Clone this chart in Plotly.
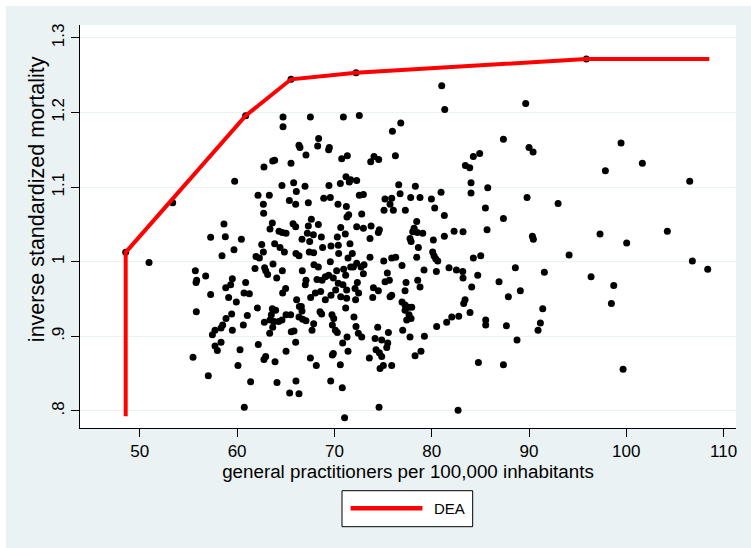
import plotly.graph_objects as go

# ---- data ----
gp = [
    # frontier units
    48.55, 53.38, 60.88, 65.54, 72.22, 95.89,
    # zoom region A
    64.72, 64.72, 67.53, 70.92, 72.56, 68.38, 66.36, 66.46, 68.28, 69.48, 69.41, 67.08, 70.75, 71.33,
    62.76, 63.66, 63.86, 65.54, 64.61, 65.81, 66.09, 66.98, 69.44, 70.61, 71.19, 71.53, 71.67, 72.29,
    72.56, 62.15, 63.31, 62.70, 62.73, 65.37, 66.02, 67.32, 68.90, 69.58, 70.37, 71.23, 59.75,
    71.29, 71.47, 67.63,
    # zoom region B
    50.95, 58.65, 57.28, 58.79, 60.44, 58.45, 59.68, 62.53, 61.94, 62.29, 62.70, 63.62, 63.38, 64.31,
    64.65, 65.03, 65.75, 66.02, 66.67, 67.22, 67.46, 67.32, 68.35, 67.84, 68.66, 63.69, 62.83, 61.84,
    63.86, 64.41, 64.86, 66.05, 66.36, 67.42, 67.87, 68.79, 69.65, 70.40, 70.44, 70.65, 70.30, 71.12,
    71.60, 72.29, 71.84, 71.40, 69.58, 70.23, 70.95, 71.16, 71.67, 71.95, 72.29, 55.71, 55.84, 55.78,
    56.77, 57.28, 59.51, 59.34, 58.83, 59.13, 59.92, 60.88, 60.71, 61.26, 64.65, 64.07, 63.14, 62.94,
    67.90, 68.35, 66.70, 67.08, 67.01, 68.21, 68.73, 69.07, 69.41, 69.89, 70.40, 70.88, 71.26, 72.12,
    72.36, 64.99, 64.68, 66.12, 66.60, 67.56, 68.04, 68.59, 69.07, 69.65, 70.13, 70.65, 71.26, 72.18,
    72.49, 55.81, 62.08, 61.05, 59.44, 58.86, 58.52, 58.35, 57.73, 57.46, 60.64, 59.51, 63.62, 63.96,
    63.52, 63.38, 63.79, 64.27, 64.61, 65.03, 65.51, 62.80, 63.66, 63.35, 66.40, 66.67, 66.36, 66.74,
    67.08, 67.87, 67.70, 68.52, 68.69, 69.75, 69.93, 71.16, 72.01, 72.22, 72.46, 69.79, 70.10, 70.30,
    65.85, 65.57, 66.02, 65.03, 62.18, 60.30, 62.76, 62.94, 63.90, 60.09, 58.35, 57.73, 57.97, 55.47,
    57.04, 67.53, 68.14, 69.89, 69.79, 70.85, 71.30, 71.40, 70.61, 61.39, 64.10, 66.05, 65.40, 66.36,
    69.62, 70.81, 60.74, 71.05,
    # zoom region C
    81.03, 81.34, 89.66, 75.96, 76.82, 76.27, 73.73, 74.07, 74.55, 87.37, 90.00, 90.42, 83.46, 83.91,
    84.28, 84.93, 72.98, 76.61, 76.75, 78.32, 77.84, 78.80, 75.20, 75.89, 75.72, 76.06, 75.10, 77.29,
    79.97, 80.31, 80.96, 81.30, 84.04, 84.04, 85.76, 85.52, 89.80, 87.37, 72.81,
    # zoom region D
    78.46, 78.19, 78.05, 78.53, 79.08, 77.77, 77.88, 78.63, 78.46, 80.17, 81.30, 82.30, 83.22, 85.69,
    90.35, 90.45, 80.10, 80.24, 80.62, 80.41, 79.21, 80.48, 81.78, 82.54, 83.19, 83.22, 84.28, 85.04,
    84.73, 84.11, 88.60, 86.92, 89.11, 87.88, 83.43, 83.29, 83.94, 82.78, 82.06, 81.54, 80.51, 85.55,
    85.55, 87.68, 88.77, 84.80, 87.37, 82.71, 74.59,
    73.66, 73.77, 72.98, 74.62, 74.52, 73.66, 75.07, 75.89, 76.30, 76.95, 75.44, 75.21, 75.65, 77.36,
    72.74, 72.98, 73.05, 74.01, 74.52, 73.94, 75.72, 75.89, 77.26, 76.95, 77.26, 77.60, 77.26, 77.95,
    77.67, 77.88, 77.43, 77.02, 78.80, 78.56, 74.45, 75.55, 74.86, 74.18, 75.48, 75.38, 77.77, 79.25,
    74.28, 74.62, 74.86, 73.59, 75.03, 74.69, 75.89, 78.90, 78.29, 72.81,
    # zoom region E
    99.46, 97.85, 101.65, 106.52, 92.99, 97.30, 100.04, 104.22, 94.12, 106.79, 108.37, 91.58, 96.38,
    98.71, 98.47, 91.41, 91.17, 90.93, 99.67,
]
inv_smr = [
    1.0126, 1.079, 1.1957, 1.2445, 1.2533, 1.2717,
    1.194, 1.181, 1.194, 1.194, 1.196, 1.165, 1.156, 1.153, 1.155, 1.153, 1.150, 1.143, 1.138, 1.142,
    1.127, 1.135, 1.136, 1.132, 1.102, 1.106, 1.094, 1.101, 1.102, 1.105, 1.114, 1.107, 1.110, 1.109,
    1.089, 1.089, 1.089, 1.077, 1.065, 1.082, 1.077, 1.079, 1.085, 1.086, 1.077, 1.074, 1.108,
    1.060, 1.063, 1.057,
    0.999, 1.0505, 1.0327, 1.0336, 1.030, 1.008, 1.016, 1.023, 1.007, 1.005, 1.013, 1.052, 1.044, 1.041,
    1.039, 1.038, 1.051, 1.047, 1.030, 1.038, 1.027, 1.048, 1.050, 1.036, 1.033, 0.997, 0.992, 0.991,
    1.024, 1.019, 1.013, 1.011, 1.008, 1.013, 1.012, 1.019, 1.021, 1.022, 1.011, 1.046, 1.033, 1.037,
    1.024, 1.047, 1.011, 1.005, 1.000, 0.988, 0.990, 0.982, 0.993, 0.993, 0.998, 0.988, 0.975, 0.972,
    0.981, 0.956, 0.977, 0.969, 0.965, 0.952, 0.946, 0.972, 0.958, 0.957, 0.988, 0.978, 0.983, 0.988,
    0.996, 0.993, 0.988, 0.975, 0.969, 0.976, 0.975, 0.980, 0.982, 0.978, 0.971, 0.969, 0.962, 0.964,
    0.972, 0.964, 0.958, 0.949, 0.940, 0.952, 0.958, 0.960, 0.949, 0.955, 0.962, 0.953, 0.951, 0.949,
    0.958, 0.933, 0.938, 0.928, 0.930, 0.924, 0.915, 0.911, 0.908, 0.902, 0.915, 0.908, 0.937, 0.935,
    0.929, 0.922, 0.920, 0.920, 0.922, 0.929, 0.929, 0.919, 0.912, 0.904, 0.940, 0.934, 0.926, 0.923,
    0.921, 0.917, 0.908, 0.933, 0.930, 0.929, 0.924, 0.938, 0.926, 0.913, 0.904, 0.915, 0.908, 0.905,
    0.907, 0.906, 0.892, 0.880, 0.889, 0.882, 0.869, 0.873, 0.866, 0.861, 0.892, 0.887, 0.881, 0.872,
    0.847, 0.871, 0.861, 0.877, 0.875, 0.891, 0.899, 0.880, 0.862, 0.839, 0.838, 0.840, 0.824, 0.823,
    0.840, 0.831, 0.805, 0.791,
    1.236, 1.204, 1.212, 1.175, 1.186, 1.142, 1.134, 1.141, 1.137, 1.164, 1.153, 1.147, 1.129, 1.126,
    1.141, 1.145, 1.090, 1.103, 1.091, 1.101, 1.086, 1.086, 1.084, 1.085, 1.077, 1.069, 1.069, 1.069,
    1.084, 1.072, 1.093, 1.062, 1.106, 1.092, 1.099, 1.072, 1.086, 1.058, 1.064,
    1.054, 1.045, 1.040, 1.039, 1.038, 1.031, 1.027, 1.019, 1.006, 1.029, 1.034, 1.041, 1.040, 1.043,
    1.034, 1.030, 1.013, 1.008, 1.001, 1.004, 0.989, 0.987, 0.992, 0.989, 0.987, 0.978, 1.005, 1.008,
    0.982, 0.966, 0.992, 0.973, 0.961, 0.953, 0.949, 0.944, 0.932, 0.927, 0.926, 0.919, 0.913, 0.922,
    0.915, 0.914, 0.895, 0.865, 0.862, 0.801, 0.805,
    1.031, 1.048, 1.045, 1.043, 1.039, 1.006, 1.001, 1.005, 1.006, 0.995, 0.985, 0.973, 0.975, 0.972,
    0.993, 0.984, 0.996, 0.965, 0.961, 0.952, 0.953, 0.955, 0.961, 0.946, 0.942, 0.939, 0.935, 0.939,
    0.929, 0.924, 0.922, 0.908, 0.966, 0.975, 0.912, 0.905, 0.895, 0.897, 0.891, 0.885, 0.899, 0.900,
    0.882, 0.878, 0.873, 0.871, 0.861, 0.857, 0.861, 0.880, 0.874, 0.899,
    1.159, 1.122, 1.132, 1.108, 1.078, 1.037, 1.025, 1.041, 1.009, 1.001, 0.990, 0.986, 0.980,
    0.968, 0.944, 0.937, 0.918, 0.908, 0.856,
]

dea_x = [48.55, 48.55, 60.88, 65.54, 72.22, 95.89, 108.53]
dea_y = [0.793, 1.0126, 1.1957, 1.2445, 1.2533, 1.2717, 1.2717]

x_ticks = [50, 60, 70, 80, 90, 100, 110]
y_ticks = [0.8, 0.9, 1.0, 1.1, 1.2, 1.3]
y_labels = [".8", ".9", "1", "1.1", "1.2", "1.3"]

FONT = "Liberation Sans, Arial, sans-serif"
BG = "#EAF2F3"

fig = go.Figure()
fig.add_trace(go.Scatter(x=gp, y=inv_smr, mode="markers",
                         marker=dict(color="black", size=7, line=dict(width=0)),
                         showlegend=False, hoverinfo="x+y"))
fig.add_trace(go.Scatter(x=dea_x, y=dea_y, mode="lines", name="DEA",
                         line=dict(color="#FF0000", width=4), showlegend=False))

fig.update_layout(
    width=751, height=548,
    margin=dict(l=80, r=15, t=25, b=120, pad=0),
    paper_bgcolor=BG, plot_bgcolor="white",
    font=dict(family=FONT, size=17, color="black"),
    xaxis=dict(range=[43.854, 111.275], tickvals=x_ticks, ticks="outside", ticklen=8,
               tickcolor="black", showline=True, linecolor="black", linewidth=1,
               showgrid=False, zeroline=False, tickfont=dict(size=17),
               title=dict(text="general practitioners per 100,000 inhabitants",
                          font=dict(size=18.8), standoff=2)),
    yaxis=dict(range=[0.7771, 1.3173], tickvals=y_ticks, ticktext=y_labels, tickangle=-90,
               ticks="outside", ticklen=8, tickcolor="black", showline=True,
               linecolor="black", linewidth=1, showgrid=True, gridcolor=BG, gridwidth=1,
               zeroline=False, tickfont=dict(size=17)),
)

# y-axis title (placed as in the reference, slightly above the plot centre)
fig.add_annotation(xref="paper", yref="paper", x=-0.0655, y=0.568, text="inverse standardized mortality",
                   textangle=-90, showarrow=False, xanchor="center", yanchor="middle",
                   font=dict(size=21.5, color="black"))

# white strip around the graph region (top/left)
fig.add_shape(type="rect", xref="paper", yref="paper", x0=-0.125, x1=-0.1128, y0=-0.31, y1=1.07,
              fillcolor="white", line=dict(width=0), layer="above")
fig.add_shape(type="rect", xref="paper", yref="paper", x0=-0.125, x1=1.03, y0=1.0471, y1=1.07,
              fillcolor="white", line=dict(width=0), layer="above")

# legend box
fig.add_shape(type="rect", xref="paper", yref="paper", x0=0.3994, x1=0.5986, y0=-0.2449, y1=-0.1556,
              fillcolor="white", line=dict(color="black", width=1), layer="above")
fig.add_shape(type="line", xref="paper", yref="paper", x0=0.4125, x1=0.5220, y0=-0.1993, y1=-0.1993,
              line=dict(color="#FF0000", width=4.5), layer="above")
fig.add_annotation(xref="paper", yref="paper", x=0.5373, y=-0.1993, text="DEA", showarrow=False,
                   xanchor="left", yanchor="middle", font=dict(size=15, color="black"))

fig.write_html("out.html", config={"displayModeBar": False},
               post_script="document.body.style.margin='0px';document.body.style.overflow='hidden';")
